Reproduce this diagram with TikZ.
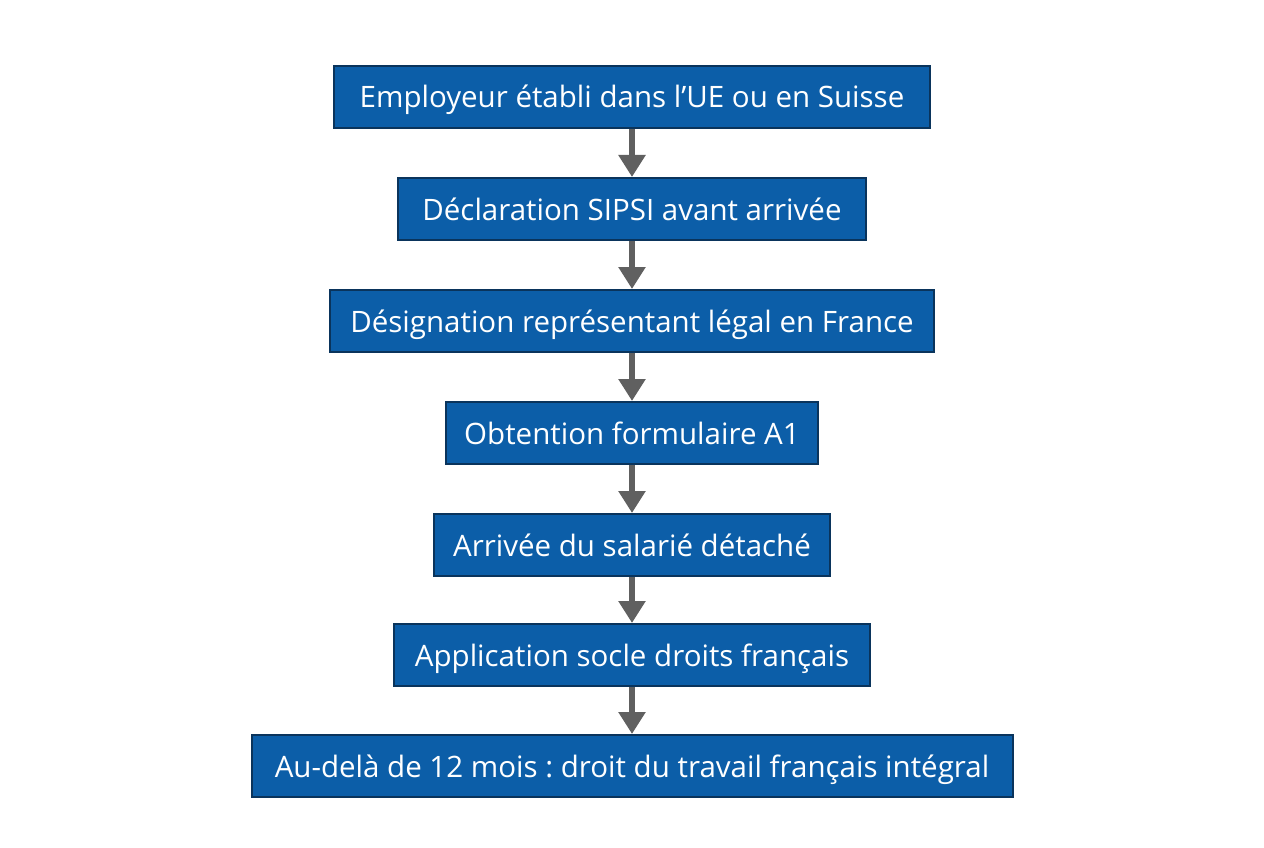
\documentclass[tikz,border=0pt]{standalone}
\usepackage{fontspec}
\setmainfont{Open Sans}
\usetikzlibrary{arrows.meta}
\definecolor{boxblue}{RGB}{12,94,168}
\definecolor{boxedge}{RGB}{10,52,92}
\definecolor{arrowgray}{RGB}{96,96,96}
\frenchspacing
\begin{document}
\begin{tikzpicture}[x=1pt,y=-1pt,
  step_box/.style={rectangle,fill=boxblue,draw=boxedge,line width=2pt,text=white,
    minimum height=62pt,inner sep=0pt,text height=25pt,text depth=3pt,
    font=\fontsize{29.5}{34}\selectfont},
  step_arrow/.style={draw=arrowgray,line width=6pt,-{Triangle[length=22pt,width=26pt]}}]

  \useasboundingbox (0,0) rectangle (1264,848);

  \node[step_box,minimum width=596pt] (1) at (632,97) {Employeur établi dans l’UE ou en Suisse};
  \node[step_box,minimum width=468pt] (2) at (632,209) {Déclaration SIPSI avant arrivée};
  \node[step_box,minimum width=604pt] (3) at (632,321) {Désignation représentant légal en France};
  \node[step_box,minimum width=372pt] (4) at (632,433) {Obtention formulaire A1};
  \node[step_box,minimum width=396pt] (5) at (632,545) {Arrivée du salarié détaché};
  \node[step_box,minimum width=476pt] (6) at (632,655) {Application socle droits français};
  \node[step_box,minimum width=761pt] (7) at (632,766) {Au-delà de 12 mois : droit du travail français intégral};

  \foreach \a/\b in {1/2,2/3,3/4,4/5,5/6,6/7}
    \draw[step_arrow] (\a) -- (\b);

\end{tikzpicture}
\end{document}
